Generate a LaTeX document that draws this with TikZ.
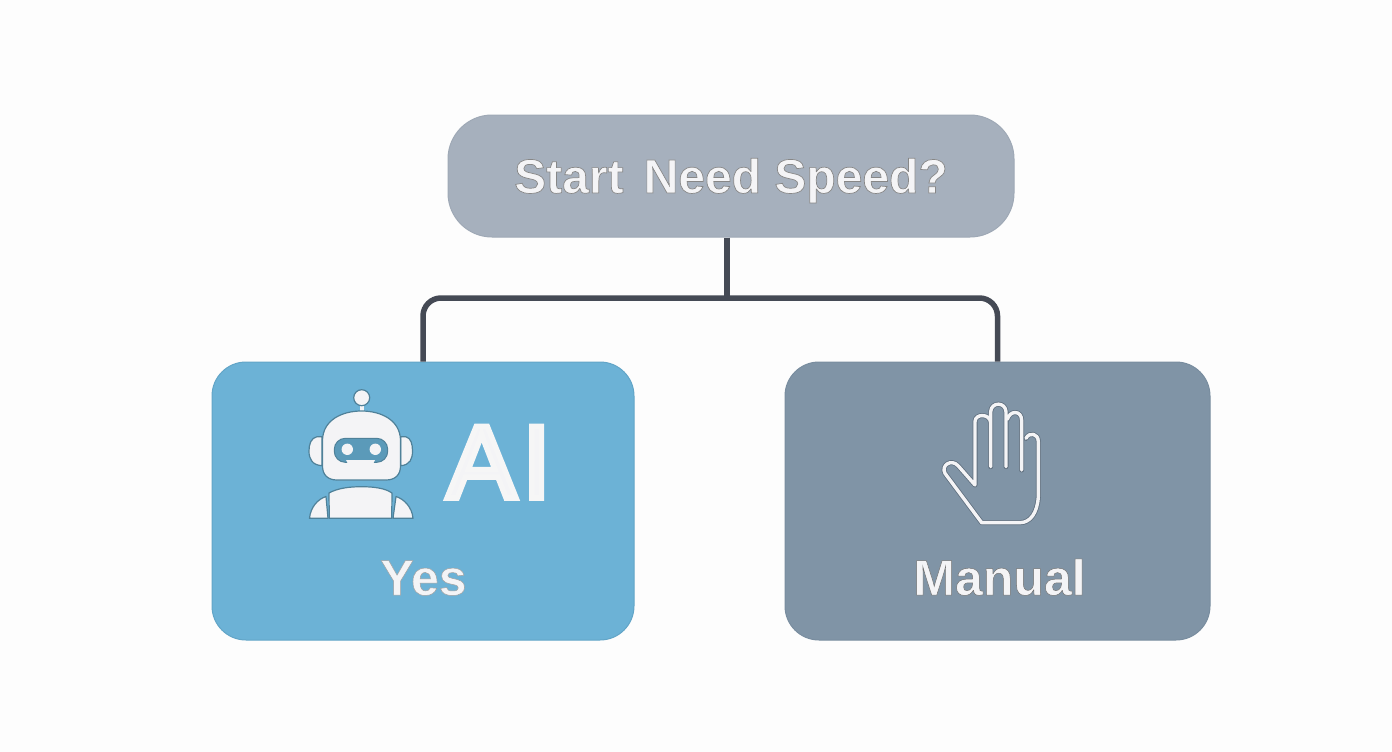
\documentclass[tikz,border=0pt]{standalone}
\usepackage{fontspec}
\setmainfont{Liberation Sans}
\newcommand{\strk}[2]{\special{pdf:literal direct 2 Tr #1 w #2 G}}
\definecolor{pagebg}{HTML}{FDFDFD}
\definecolor{topfill}{HTML}{A6B0BD}
\definecolor{topedge}{HTML}{9FA9B6}
\definecolor{yesfill}{HTML}{6CB2D6}
\definecolor{yesedge}{HTML}{62A5C7}
\definecolor{nofill}{HTML}{8094A6}
\definecolor{noedge}{HTML}{798D9F}
\definecolor{wire}{HTML}{454A55}
\definecolor{ink}{HTML}{F4F4F6}
\definecolor{iconedge}{HTML}{4F8199}
\definecolor{visor}{HTML}{5B9AB9}
\definecolor{handedge}{HTML}{5F6F7E}
\tikzset{
  box/.style={draw,line width=1pt,rounded corners=#1,inner sep=0pt},
  wireline/.style={draw=wire,line width=5.5pt},
  label/.style={text=ink,inner sep=0pt,anchor=base},
  botpart/.style={fill=ink,draw=iconedge,line width=1.2pt,line join=round},
  handout/.style={draw=#1,line cap=round,line join=round}
}
\begin{document}
\begin{tikzpicture}[x=1pt,y=-1pt]
\useasboundingbox (0,0) rectangle (1392,752);
\fill[pagebg] (0,0) rectangle (1392,752);
\node[box=44,draw=topedge,fill=topfill,minimum width=566pt,minimum height=122pt] (top) at (731,176) {};
\node[box=34,draw=yesedge,fill=yesfill,minimum width=422pt,minimum height=278pt] (yes) at (423,501) {};
\node[box=34,draw=noedge,fill=nofill,minimum width=425pt,minimum height=278pt] (no) at (997.5,501) {};
\coordinate (j) at (727,298);
\draw[wireline] (j |- top.south) -- (j);
\draw[wireline,rounded corners=18pt] (yes.north) |- (j) -| (no.north);
\node[label,font=\bfseries\fontsize{48}{48}\selectfont] (q) at (731,193) {\strk{0.7}{0.45 0.48 0.53}Start\hspace{0.42em}Need Speed?};
\node[label,font=\bfseries\fontsize{50}{50}\selectfont] (ytext) at (423.5,595) {\strk{0.5}{0.33 0.53 0.63}Yes};
\node[label,font=\bfseries\fontsize{50}{50}\selectfont] (mtext) at (999.5,595) {\strk{0.5}{0.33 0.38 0.45}Manual};
\node[label,font=\fontsize{104}{104}\selectfont] (ai) at (499,498) {\strk{5.5}{0.96 0.96 0.965}A\hspace{6pt}I};
% robot icon
\fill[ink] (359.5,404) rectangle (364,413);
\draw[botpart] (361.7,397.7) circle (8);
\draw[botpart] (322,436.7) -- (317,436.7) .. controls (311,438) and (309,444) .. (309,451) .. controls (309,459) and (312,465) .. (322,465.7) -- cycle;
\draw[botpart] (400.7,436.7) -- (405.7,436.7) .. controls (411,438) and (412.5,444) .. (412.5,451) .. controls (412.5,459) and (410,465) .. (400.7,465.7) -- cycle;
\draw[botpart] (322.5,440) .. controls (323,420) and (342,411) .. (361.5,411) .. controls (381,411) and (400,420) .. (400.5,440) -- (400.5,466) .. controls (400.5,475) and (395,480) .. (386,480) -- (337,480) .. controls (328,480) and (322.5,475) .. (322.5,466) -- cycle;
\fill[visor,draw=iconedge,line width=1pt,rounded corners=11pt] (334.3,438.3) rectangle (387.7,462.3);
\fill[ink] (347.3,449.3) circle (5.7) (375.3,449.3) circle (5.7);
\fill[ink] (346,460) -- (375,460) -- (373,464) -- (348,464) -- cycle;
\draw[botpart] (329.3,518.3) -- (329,493) .. controls (338,488) and (350,486.7) .. (361.5,486.7) .. controls (373,486.7) and (385,488) .. (392,493) -- (391.7,518.3) -- cycle;
\draw[botpart] (309.5,518.3) .. controls (310.5,507) and (318,499) .. (326,496.5) -- (328,518.3) -- cycle;
\draw[botpart] (413,518.3) .. controls (412,507) and (404,499) .. (396,496.5) -- (393,518.3) -- cycle;
% hand icon
\begin{scope}[shift={(920,390)},x=0.3333pt,y=-0.3333pt]
\foreach \c/\w in {handedge/5pt,ink/3.4pt}{
\draw[handout=\c,line width=\w]
  (165,285) -- (165,95) .. controls (165,70) and (210,70) .. (212,98) -- (212,230)
  (212,98) -- (212,65) .. controls (214,35) and (256,35) .. (258,65) -- (258,230)
  (262,88) .. controls (270,60) and (305,60) .. (305,92) -- (305,240)
  (318,145) .. controls (328,125) and (355,130) .. (355,155) -- (355,320) .. controls (352,370) and (330,398) .. (300,398) -- (185,398) -- (75,250) .. controls (62,225) and (95,205) .. (115,228) -- (165,285);
}
\end{scope}
\end{tikzpicture}
\end{document}
